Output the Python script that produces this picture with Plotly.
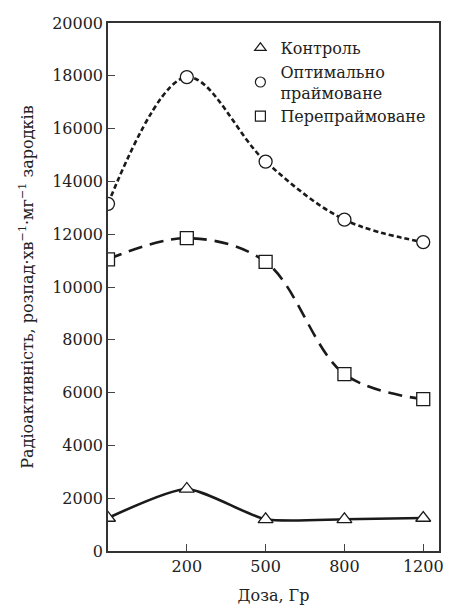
import plotly.graph_objects as go

doses = ["0", "200", "500", "800", "1200"]
control = [1250, 2350, 1200, 1200, 1250]
optimal = [13150, 17950, 14750, 12550, 11700]
overprimed = [11050, 11850, 10950, 6700, 5750]
tick_labels = ["200", "500", "800", "1200"]

xpos = list(range(len(doses)))
FONT = "DejaVu Serif"

fig = go.Figure()
series = [
    ("Контроль", control, "solid", "triangle-up-open", 0.6),
    ("Оптимально<br>праймоване", optimal, "5px,3px", "circle-open", 1.0),
    ("Перепраймоване", overprimed, "14px,8px", "square-open", 1.0),
]
for name, vals, dash, sym, sm in series:
    fig.add_trace(go.Scatter(
        x=xpos, y=vals, mode="lines",
        line=dict(color="#1a1a1a", width=2.6, dash=dash, shape="spline", smoothing=sm),
        showlegend=False, hoverinfo="skip"))
    fig.add_trace(go.Scatter(
        x=xpos, y=vals, mode="markers", showlegend=False,
        marker=dict(symbol=sym.replace("-open", ""), size=13, color="white",
                    line=dict(color="#1a1a1a", width=1.3))))
for name, vals, dash, sym, sm in series:
    fig.add_trace(go.Scatter(
        x=[None], y=[None], mode="markers", name=name,
        marker=dict(symbol=sym, size=10, color="#1a1a1a", line=dict(width=1.2))))

# page body has an 8px default margin, so the figure is sized/offset to compensate
fig.update_layout(
    width=444, height=607,
    margin=dict(l=100, r=13, t=15, b=64),
    paper_bgcolor="white", plot_bgcolor="white",
    font=dict(family=FONT, size=16, color="#222"),
    showlegend=True,
    legend=dict(x=0.40, y=0.985, xanchor="left", yanchor="top", bgcolor="rgba(0,0,0,0)",
                font=dict(family=FONT, size=16), itemsizing="trace", tracegroupgap=0, itemwidth=30),
    xaxis=dict(range=[0, 4.2], tickvals=xpos[1:], ticktext=tick_labels, ticks="inside", ticklen=7,
               showline=True, linecolor="#333", linewidth=1.5, mirror=True, showgrid=False, zeroline=False,
               automargin=False,
               title=dict(text="Доза, Гр", font=dict(family=FONT, size=16)),
               tickfont=dict(family=FONT, size=16)),
    yaxis=dict(range=[0, 20000], dtick=2000, tickformat="d", ticks="inside", ticklen=7,
               showline=True, linecolor="#333", linewidth=1.5, mirror=True, showgrid=False, zeroline=False,
               automargin=False,
               title=dict(text="Радіоактивність, розпад·хв<sup>−1</sup>·мг<sup>−1</sup> зародків",
                          font=dict(family=FONT, size=16)),
               tickfont=dict(family=FONT, size=16)),
)
fig.write_html("out.html")
